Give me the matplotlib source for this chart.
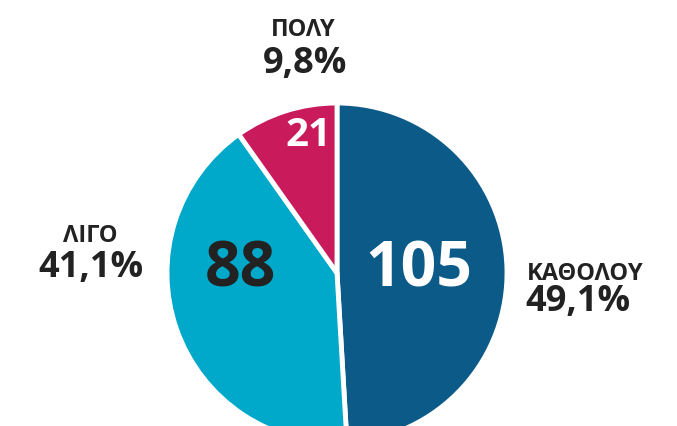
import matplotlib.pyplot as plt

plt.rcParams['font.family'] = ['Open Sans', 'DejaVu Sans']

# data
labels = ["ΚΑΘΟΛΟΥ", "ΛΙΓΟ", "ΠΟΛΥ"]
counts = [105, 88, 21]
percents = ["49,1%", "41,1%", "9,8%"]
colors = ["#0b5a87", "#00a8c9", "#c91a5b"]
count_colors = ["white", "#222222", "white"]

W, H = 677, 427
fig = plt.figure(figsize=(W / 100, H / 100), dpi=100)
ax = fig.add_axes([0, 0, 1, 1])
ax.set_xlim(0, W)
ax.set_ylim(0, H)
ax.set_aspect("equal")
ax.axis("off")

cx, cy, r = 337, H - 274, 170

wedges, _ = ax.pie(counts, colors=colors, startangle=90, counterclock=False,
                   center=(cx, cy), radius=r,
                   wedgeprops=dict(edgecolor="white", linewidth=3.5))
ax.set_xlim(0, W)
ax.set_ylim(0, H)

# counts inside slices
count_pos = [(419, 270), (240, 270), (308, 136)]
count_size = [45, 45, 29]
for n, (x, y), s, c in zip(counts, count_pos, count_size, count_colors):
    ax.text(x, H - y, str(n), ha="center", va="center", fontsize=s,
            fontweight="bold", color=c)

# outside labels
name_pos = [(585, 274), (90, 236), (303, 30)]
pct_pos = [(578, 302), (91, 268), (305, 64)]
for name, pct, (nx, ny), (px, py) in zip(labels, percents, name_pos, pct_pos):
    ax.text(nx, H - ny, name, ha="center", va="center", fontsize=17,
            fontweight="bold", color="#222222")
    ax.text(px, H - py, pct, ha="center", va="center", fontsize=26,
            fontweight="bold", color="#222222")

fig.savefig("out.png", dpi=100)
